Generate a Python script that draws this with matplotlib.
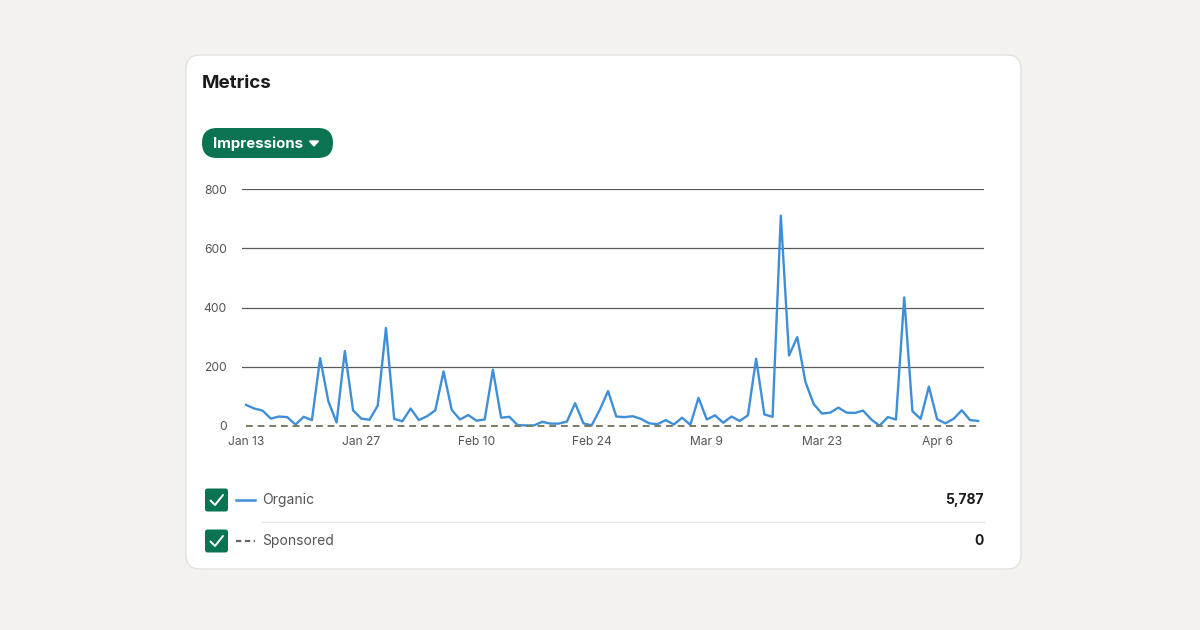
import datetime as dt
import matplotlib
matplotlib.use("Agg")
import matplotlib.pyplot as plt
import matplotlib.dates as mdates
from matplotlib.patches import FancyBboxPatch

plt.rcParams['font.family'] = ['Inter', 'DejaVu Sans']

# daily impressions, Jan 13 - Apr 11 2024
start = dt.date(2024, 1, 13)
organic = [71, 59, 52, 25, 32, 30, 5, 31, 20, 229, 83, 12, 253, 53, 25, 21, 69, 331, 24,
           16, 59, 20, 33, 53, 184, 54, 22, 37, 18, 22, 190, 28, 31, 3, 2, 2, 14,
           8, 8, 15, 77, 9, 2, 55, 118, 32, 30, 33, 24, 9, 6, 20, 5, 28, 4,
           95, 22, 36, 11, 32, 17, 36, 227, 39, 31, 710, 238, 300, 148, 74, 42, 45, 62,
           45, 44, 52, 22, 1, 30, 22, 434, 50, 24, 133, 23, 9, 24, 53, 20, 17]
sponsored = [0] * len(organic)
dates = [start + dt.timedelta(days=i) for i in range(len(organic))]

yticks = [0, 200, 400, 600, 800]
xtick_dates = [dt.date(2024, 1, 13), dt.date(2024, 1, 27), dt.date(2024, 2, 10),
               dt.date(2024, 2, 24), dt.date(2024, 3, 9), dt.date(2024, 3, 23),
               dt.date(2024, 4, 6)]
series_names = ["Organic", "Sponsored"]
totals = ["5,787", "0"]

BLUE = "#3f8ed8"
GREEN = "#0a7352"
GREY = "#666666"

fig = plt.figure(figsize=(12, 6.3), dpi=100, facecolor="#f3f2ef")

# background layer in pixel coords
bg = fig.add_axes([0, 0, 1, 1])
bg.set_xlim(0, 1200)
bg.set_ylim(630, 0)
bg.axis("off")

card = FancyBboxPatch((186, 55), 835, 514, boxstyle="round,pad=0,rounding_size=14",
                      fc="white", ec="#e3e1dc", lw=1)
bg.add_patch(card)
bg.text(202, 84, "Metrics", fontsize=13.5, fontweight="bold", color="#1a1a1a",
        va="center", ha="left")

pill = FancyBboxPatch((202, 128), 131, 30, boxstyle="round,pad=0,rounding_size=15",
                      fc=GREEN, ec="none")
bg.add_patch(pill)
bg.text(213.5, 143.5, "Impressions", fontsize=10.8, fontweight="bold", color="white",
        va="center", ha="left")
bg.fill([309.5, 318.5, 314], [141, 141, 146], color="white")

# legend rows
row_y = [500, 541]
for i, (name, total) in enumerate(zip(series_names, totals)):
    y = row_y[i]
    box = FancyBboxPatch((205, y - 11.5), 23, 23, boxstyle="round,pad=0,rounding_size=2.5",
                         fc=GREEN, ec="none")
    bg.add_patch(box)
    bg.plot([210.5, 215, 223], [y + 0.5, y + 5, y - 5], color="white", lw=1.4,
            solid_capstyle="round", solid_joinstyle="round")
    if i == 0:
        bg.plot([236, 255], [y, y], color=BLUE, lw=1.8)
    else:
        bg.plot([236, 255], [y, y], color=GREY, lw=1.6, ls=(0, (2.4, 1.6)))
    bg.text(262, y, name, fontsize=10, color="#555555", va="center", ha="left")
    bg.text(984, y, total, fontsize=10, fontweight="bold", color="#1a1a1a",
            va="center", ha="right")
bg.plot([262, 984], [521.5, 521.5], color="#e6e6e6", lw=1)

# chart
ax = fig.add_axes([242 / 1200, (630 - 426) / 630, (984 - 242) / 1200, (426 - 189) / 630])
ax.set_facecolor("none")
ax.set_ylim(0, 800)
ax.set_xlim(mdates.date2num(start) - 0.5, mdates.date2num(start) + 89.7)
ax.set_yticks(yticks)
ax.set_yticklabels([str(v) for v in yticks])
for v in yticks[1:]:
    ax.axhline(v, color="#5a5a5a", lw=0.9, zorder=1)
ax.plot(dates, organic, color=BLUE, lw=1.7, zorder=3, clip_on=False)
ax.plot(dates, sponsored, color="#7b7b62", lw=1.4, ls=(0, (3.5, 2.5)), zorder=4,
        clip_on=False)
ax.set_xticks(xtick_dates)
ax.set_xticklabels([d.strftime("%b ") + str(d.day) for d in xtick_dates])
ax.tick_params(axis="both", length=0, labelsize=8.7, labelcolor="#555555")
ax.tick_params(axis="y", pad=11)
ax.tick_params(axis="x", pad=7)
for s in ax.spines.values():
    s.set_visible(False)

fig.savefig("out.png", dpi=100, facecolor=fig.get_facecolor())
